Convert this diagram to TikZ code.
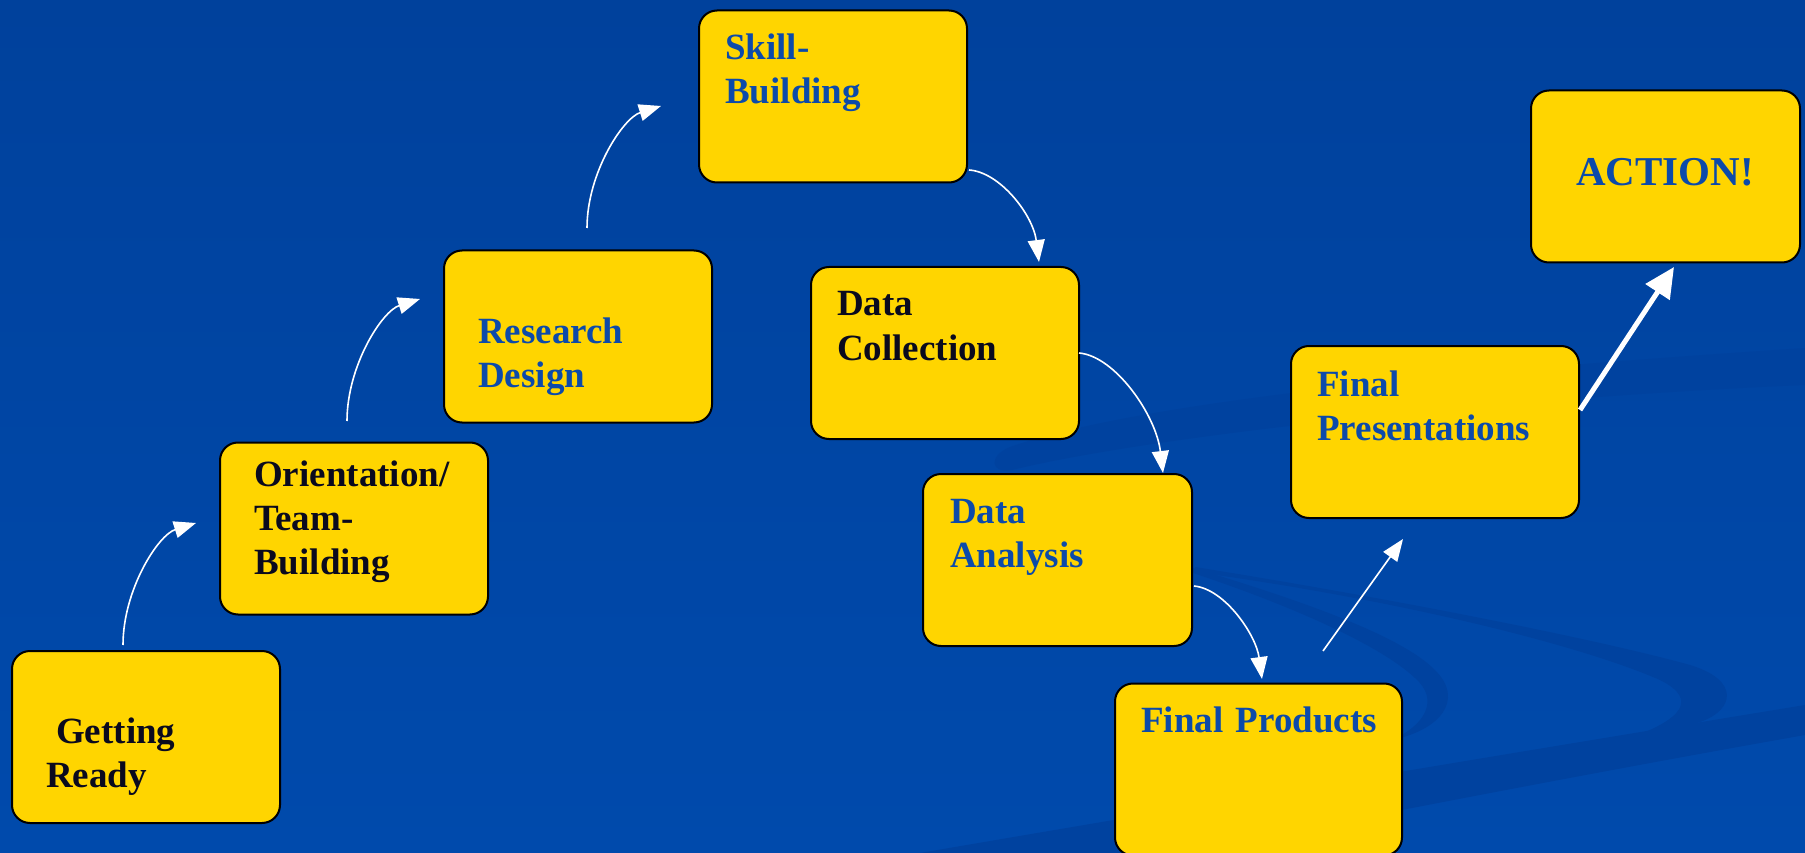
\documentclass[tikz,border=0pt]{standalone}
\usepackage{fontspec}
\setmainfont{Liberation Serif}
\usetikzlibrary{arrows.meta}
\definecolor{bgtop}{RGB}{0,65,156}
\definecolor{bgbot}{RGB}{0,74,172}
\definecolor{wave}{RGB}{0,66,159}
\definecolor{boxyellow}{RGB}{255,213,0}
\definecolor{txtblue}{RGB}{12,74,170}
\definecolor{txtblack}{RGB}{10,10,30}
\begin{document}
\begin{tikzpicture}[x=1pt,y=-1pt,
  box/.style={draw=black, line width=2pt, fill=boxyellow, rounded corners=18pt, minimum height=172pt, minimum width=268pt, inner sep=0pt},
  lbl/.style={font=\fontsize{37}{44}\selectfont\bfseries, anchor=base west, align=left, text width=280pt, inner sep=0pt},
  blk/.style={lbl, text=txtblack},
  blu/.style={lbl, text=txtblue},
  thin arrow/.style={draw=white, line width=1.6pt, -{Triangle[length=22pt,width=17pt]}},
  thick arrow/.style={draw=white, line width=5pt, -{Triangle[length=30pt,width=28pt]}},
]
\useasboundingbox (0,0) rectangle (1805,853);
\fill[top color=bgtop, bottom color=bgbot] (0,0) rectangle (1805,853);
% background waves
\fill[wave] (1805,348) .. controls (1500,368) and (1150,398) .. (1010,447) .. controls (988,456) and (990,474) .. (1012,470) .. controls (1150,436) and (1500,398) .. (1805,385) -- cycle;
\fill[wave] (1195,567) .. controls (1400,600) and (1600,640) .. (1690,665) .. controls (1740,680) and (1735,710) .. (1700,722) .. controls (1670,732) and (1645,737) .. (1630,738) .. controls (1680,720) and (1700,700) .. (1660,680) .. controls (1580,645) and (1400,600) .. (1195,572) -- cycle;
\fill[wave] (1190,567) .. controls (1300,600) and (1400,635) .. (1435,670) .. controls (1465,700) and (1440,730) .. (1392,740) .. controls (1425,725) and (1440,700) .. (1415,678) .. controls (1380,645) and (1290,605) .. (1190,572) -- cycle;
\fill[wave] (920,853) .. controls (1200,805) and (1500,755) .. (1805,705) -- (1805,735) .. controls (1550,780) and (1300,830) .. (1180,853) -- cycle;

% boxes
\node[box] (b1) at (146,737) {};
\node[box] (b2) at (354,528.5) {};
\node[box] (b3) at (578,336.5) {};
\node[box] (b4) at (833,96.5) {};
\node[box] (b5) at (945,353) {};
\node[box, minimum width=269pt] (b6) at (1057.5,560) {};
\node[box, minimum width=287pt] (b7) at (1258.5,769.5) {};
\node[box, minimum width=288pt] (b8) at (1435,432) {};
\node[box, minimum width=269pt] (b9) at (1665.5,176.5) {};

% labels
\node[blk] (t1) at (46,743) {\hspace*{10pt}Getting\\Ready};
\node[blk] (t2) at (254,486) {Orientation/\\Team-\\Building};
\node[blu] (t3) at (478,343) {Research\\Design};
\node[blu] (t4) at (725,60) {Skill-\\Building};
\node[blk] (t5) at (837,316) {Data\\Collection};
\node[blu] (t6) at (950,523) {Data\\Analysis};
\node[blu] (t7) at (1141,732) {Final Products};
\node[blu] (t8) at (1317,396) {Final\\Presentations};
\node[blu, font=\fontsize{41}{48}\selectfont\bfseries] (t9) at (1576,186) {ACTION!};

% arrows
\coordinate (a1s) at (123,645); \coordinate (a1e) at (196,523);
\coordinate (a2s) at (347,421); \coordinate (a2e) at (420,299);
\coordinate (a3s) at (587,228); \coordinate (a3e) at (661,106);
\coordinate (a4s) at (969,170); \coordinate (a4e) at (1039,262);
\coordinate (a5s) at (1079,353); \coordinate (a5e) at (1163,473);
\coordinate (a6s) at (1194,586); \coordinate (a6e) at (1262,679);
\coordinate (a7s) at (1323,651); \coordinate (a7e) at (1403,539);
\coordinate (a8s) at (1580,410); \coordinate (a8e) at (1674,267);
\draw[thin arrow] (a1s) .. controls (123,590) and (158,535) .. (a1e);
\draw[thin arrow] (a2s) .. controls (347,366) and (382,311) .. (a2e);
\draw[thin arrow] (a3s) .. controls (587,173) and (623,118) .. (a3e);
\draw[thin arrow] (a4s) .. controls (1000,172) and (1033,215) .. (a4e);
\draw[thin arrow] (a5s) .. controls (1115,356) and (1156,415) .. (a5e);
\draw[thin arrow] (a6s) .. controls (1225,589) and (1256,635) .. (a6e);
\draw[thin arrow] (a7s) -- (a7e);
\draw[thick arrow] (a8s) -- (a8e);
\end{tikzpicture}
\end{document}
